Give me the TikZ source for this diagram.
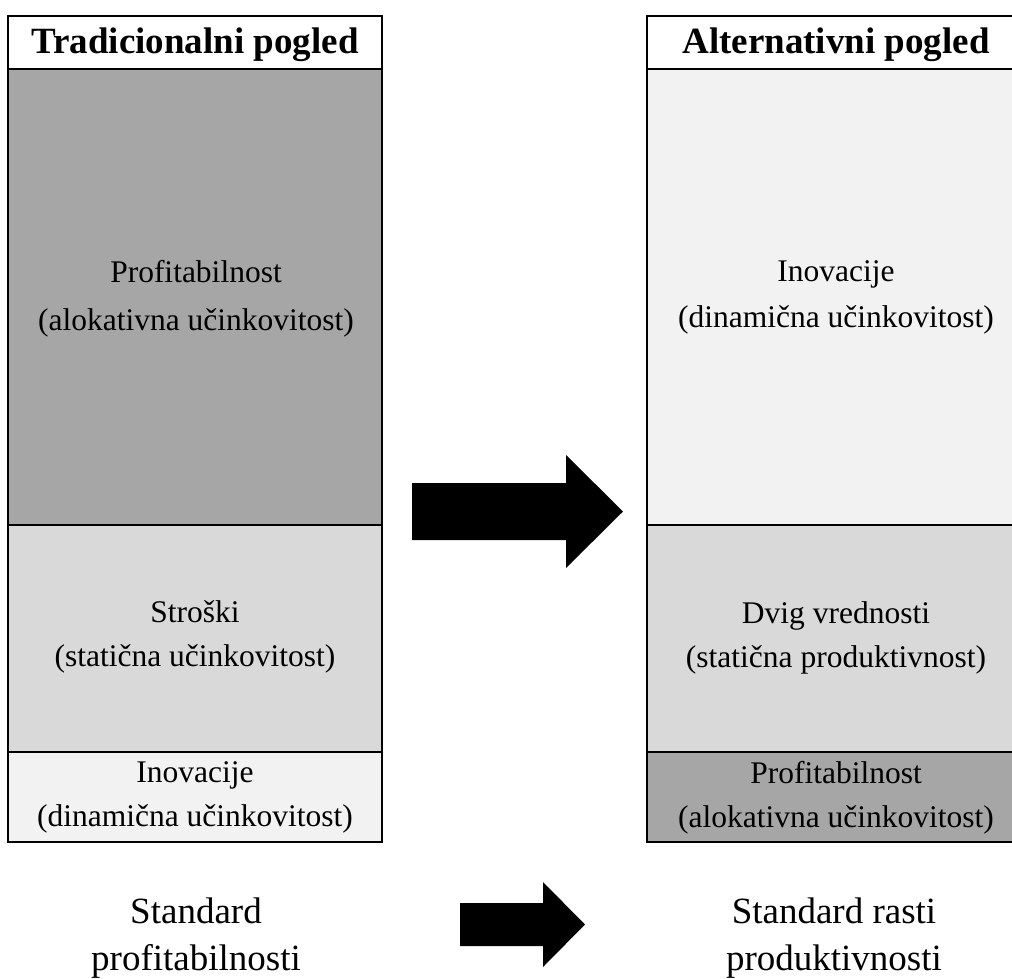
\documentclass[tikz,border=0pt]{standalone}
\usepackage{fontspec}
\setmainfont{Liberation Serif}
\definecolor{gdark}{HTML}{A6A6A6}
\definecolor{gmid}{HTML}{D9D9D9}
\definecolor{glight}{HTML}{F2F2F2}
\begin{document}
\begin{tikzpicture}[x=1pt,y=-1pt,
  blk/.style={draw=black, line width=2.6pt, inner sep=0pt, outer sep=0pt, rectangle},
  headtxt/.style={font=\fontsize{37}{44}\selectfont\bfseries, inner sep=0pt, anchor=base},
  bodytxt/.style={font=\fontsize{31.5}{44}\selectfont, align=center, inner sep=0pt},
  bigtxt/.style={font=\fontsize{31.5}{47.5}\selectfont, align=center, inner sep=0pt},
  foottxt/.style={font=\fontsize{37}{47}\selectfont, align=center, inner sep=0pt},
  blockarrow/.style={fill=black}]
\useasboundingbox (0,0) rectangle (1012,978);
\clip (0,0) rectangle (1012,978);
% left column
\node[blk, fill=white, minimum width=374pt, minimum height=53pt] (lhead) at (195,42.5) {};
\node[blk, fill=gdark, minimum width=374pt, minimum height=456pt] (lprof) at (195,297) {};
\node[blk, fill=gmid, minimum width=374pt, minimum height=227pt] (lcost) at (195,638.5) {};
\node[blk, fill=glight, minimum width=374pt, minimum height=90pt] (linov) at (195,797) {};
% right column
\node[blk, fill=white, minimum width=378pt, minimum height=53pt] (rhead) at (836,42.5) {};
\node[blk, fill=glight, minimum width=378pt, minimum height=456pt] (rinov) at (836,297) {};
\node[blk, fill=gmid, minimum width=378pt, minimum height=227pt] (rval) at (836,638.5) {};
\node[blk, fill=gdark, minimum width=378pt, minimum height=90pt] (rprof) at (836,797) {};
% texts
\node[headtxt] (lheadt) at (195,53.5) {Tradicionalni pogled};
\node[headtxt] (rheadt) at (836,53.5) {Alternativni pogled};
\node[bigtxt] (lproft) at (196,299) {Profitabilnost\\(alokativna učinkovitost)};
\node[bodytxt] (lcostt) at (195,636.5) {Stroški\\(statična učinkovitost)};
\node[bodytxt] (linovt) at (195,797.5) {Inovacije\\(dinamična učinkovitost)};
\node[bigtxt, font=\fontsize{31.5}{46}\selectfont] (rinovt) at (836,297) {Inovacije\\(dinamična učinkovitost)};
\node[bodytxt] (rvalt) at (836,637.5) {Dvig vrednosti\\(statična produktivnost)};
\node[bodytxt] (rproft) at (836,797.5) {Profitabilnost\\(alokativna učinkovitost)};
\node[foottxt] (lfoot) at (196,938) {Standard\\profitabilnosti};
\node[foottxt] (rfoot) at (834,938) {Standard rasti\\produktivnosti};
% block arrows
\fill[blockarrow] (412,483) -- (566,483) -- (566,455) -- (623,511.5) -- (566,568) -- (566,540) -- (412,540) -- cycle;
\fill[blockarrow] (460,903) -- (543,903) -- (543,882) -- (585,924.5) -- (543,967) -- (543,946) -- (460,946) -- cycle;
\end{tikzpicture}
\end{document}
